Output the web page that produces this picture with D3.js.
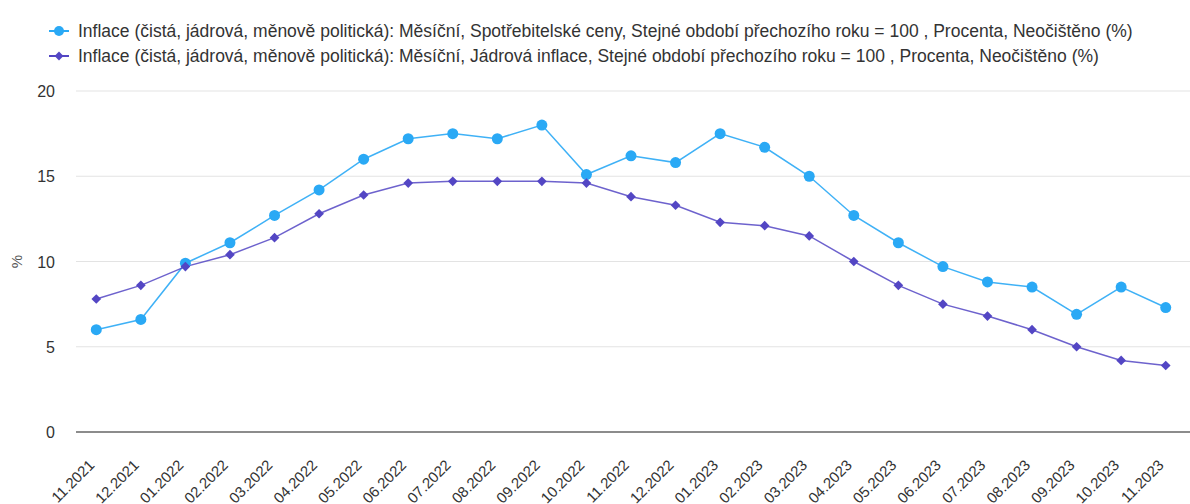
<!DOCTYPE html>
<html><head><meta charset="utf-8">
<script src="https://cdn.jsdelivr.net/npm/d3@7"></script>
<style>body{margin:0;background:#fff;font-family:"Liberation Sans",Arial,sans-serif;}</style>
</head><body><svg id="c" width="1190" height="504"></svg>
<script>
const categories = ["11.2021","12.2021","01.2022","02.2022","03.2022","04.2022","05.2022","06.2022","07.2022","08.2022","09.2022","10.2022","11.2022","12.2022","01.2023","02.2023","03.2023","04.2023","05.2023","06.2023","07.2023","08.2023","09.2023","10.2023","11.2023"];
const cpi = [6.0,6.6,9.9,11.1,12.7,14.2,16.0,17.2,17.5,17.2,18.0,15.1,16.2,15.8,17.5,16.7,15.0,12.7,11.1,9.7,8.8,8.5,6.9,8.5,7.3];
const core = [7.8,8.6,9.7,10.4,11.4,12.8,13.9,14.6,14.7,14.7,14.7,14.6,13.8,13.3,12.3,12.1,11.5,10.0,8.6,7.5,6.8,6.0,5.0,4.2,3.9];
const yTicks = [0,5,10,15,20];
const seriesNames = [
 "Inflace (čistá, jádrová, měnově politická): Měsíční, Spotřebitelské ceny, Stejné období přechozího roku = 100 , Procenta, Neočištěno (%)",
 "Inflace (čistá, jádrová, měnově politická): Měsíční, Jádrová inflace, Stejné období přechozího roku = 100 , Procenta, Neočištěno (%)"
];
const colors = ["#2aa9f5","#5346c4"];

const svg = d3.select("#c");
const L = 74, R = 1188, T = 91, B = 432;
const x = d3.scalePoint().domain(categories).range([L, R]).padding(0.5);
const y = d3.scaleLinear().domain([0,20]).range([B, T]);

// grid
svg.append("g").selectAll("line").data(yTicks.filter(d=>d>0)).join("line")
  .attr("x1", 76).attr("x2", 1190).attr("y1", d=>y(d)).attr("y2", d=>y(d))
  .attr("stroke", "#e3e3e3").attr("stroke-width", 1);
svg.append("line").attr("x1",76).attr("x2",1190).attr("y1",y(0)).attr("y2",y(0))
  .attr("stroke","#666").attr("stroke-width",1.5);

// y labels
svg.append("g").selectAll("text").data(yTicks).join("text")
  .attr("x", 55).attr("y", d=>y(d)+6).attr("text-anchor","end")
  .attr("font-size",16).attr("fill","#333").text(d=>d);
svg.append("text").attr("transform","translate(22,"+y(10)+") rotate(-90)")
  .attr("text-anchor","middle").attr("font-size",15).attr("fill","#555").text("%");

// x labels
svg.append("g").selectAll("text").data(categories).join("text")
  .attr("transform", d=>"translate("+(x(d)-1)+",466) rotate(-45)")
  .attr("text-anchor","end").attr("font-size",15).attr("fill","#333").text(d=>d);

const line = d3.line().x((d,i)=>x(categories[i])).y(d=>y(d));
const data = [cpi, core];
data.forEach((vals, k) => {
  svg.append("path").attr("d", line(vals)).attr("fill","none")
    .attr("stroke", colors[k]).attr("stroke-width", 1.5).attr("opacity", k===0?0.9:0.85);
});
// markers
svg.append("g").selectAll("circle").data(cpi).join("circle")
  .attr("cx",(d,i)=>x(categories[i])).attr("cy",d=>y(d)).attr("r",5.5).attr("fill",colors[0]);
const diamond = d3.symbol().type(d3.symbolDiamond2).size(60);
svg.append("g").selectAll("path").data(core).join("path")
  .attr("transform",(d,i)=>"translate("+x(categories[i])+","+y(d)+")")
  .attr("d", diamond).attr("fill",colors[1]);

// legend
const lg = svg.append("g");
seriesNames.forEach((n,k)=>{
  const yy = 31 + k*25;
  lg.append("line").attr("x1",49).attr("x2",69).attr("y1",yy).attr("y2",yy).attr("stroke",colors[k]).attr("stroke-width",2);
  if(k===0) lg.append("circle").attr("cx",59).attr("cy",yy).attr("r",5).attr("fill",colors[0]);
  else lg.append("path").attr("transform","translate(59,"+yy+")").attr("d",d3.symbol().type(d3.symbolDiamond2).size(50)).attr("fill",colors[1]);
  lg.append("text").attr("x",78).attr("y",yy+6).attr("font-size",17.5).attr("fill","#333").text(n);
});
</script></body></html>
